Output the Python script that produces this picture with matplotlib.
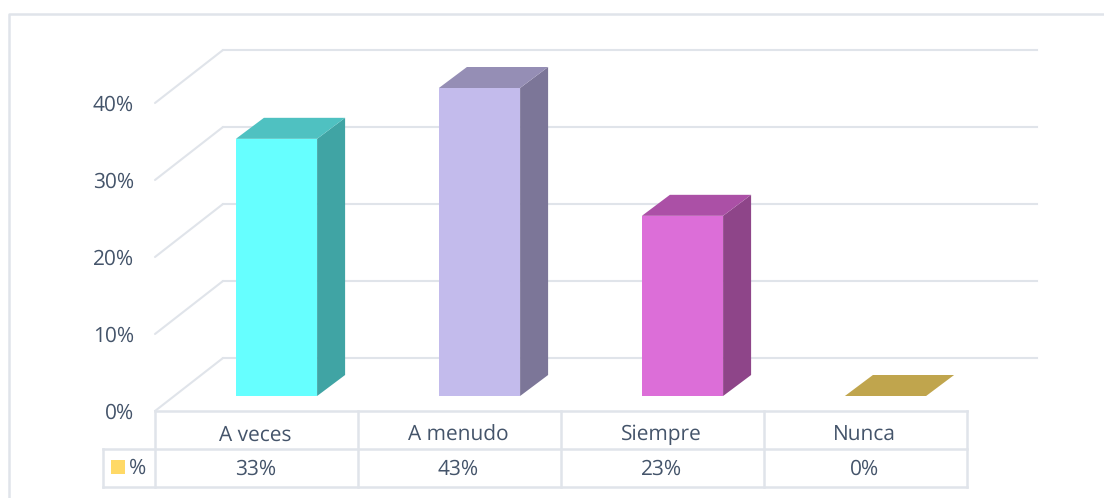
#! /usr/bin/env python
# -*- coding:utf-8 -*-

from matplotlib import pyplot as plt

plt.rcParams.update({
    "font.family": ['Open Sans', 'DejaVu Sans'],
    "text.hinting": 'none',
})

# Datos
categorias = ['A veces', 'A menudo', 'Siempre', 'Nunca']
valores = [33.4, 43, 23.4, 0]
etiquetas = ['33%', '43%', '23%', '0%']
ticks_y = [0, 10, 20, 30, 40]
max_eje = 40

color_frente = ['#66FFFF', '#C3BBEC', '#DC6ED8', '#FFD966']
color_lado = ['#40A4A4', '#7C7698', '#8E4589', '#A38A3F']
color_tapa = ['#4FC1C1', '#958EB5', '#AB50A6', '#C0A54D']

COLOR_GRID = '#E0E4EA'
COLOR_TEXTO = '#44546A'
TAM = 15

# Un eje sobre toda la figura: x en categorias, y en porcentaje
ANCHO, ALTO = 1104, 498
PX_X = 203     # pixeles por categoria
PX_Y = 7.7     # pixeles por 1%
X0, Y0 = 155, 411

fig01 = plt.figure(figsize=(ANCHO / 100, ALTO / 100), dpi=100)
ax01 = fig01.add_axes([0, 0, 1, 1])
ax01.set_xlim(-X0 / PX_X, (ANCHO - X0) / PX_X)
ax01.set_ylim(-(ALTO - Y0) / PX_Y, Y0 / PX_Y)
ax01.axis('off')

# Profundidad del suelo y de las barras
prof_x, prof_y = 68 / PX_X, 53 / PX_Y
barra_x, barra_y = 28 / PX_X, 21 / PX_Y
inicio_x, inicio_y = 20 / PX_X, 15 / PX_Y
ancho_barra = 0.4
margen = (1 - ancho_barra) / 2
n = len(categorias)
fin_grid = (1037 - X0) / PX_X

# Rejilla
for t in ticks_y:
    ax01.plot([0, prof_x], [t, t + prof_y], color=COLOR_GRID, lw=1.5, solid_capstyle='round', zorder=1)
    ax01.plot([prof_x, fin_grid], [t + prof_y, t + prof_y], color=COLOR_GRID, lw=1.5, zorder=1)
    ax01.text(-21 / PX_X, t - 2 / PX_Y, f'{t}%', ha='right', va='center', fontsize=TAM, color=COLOR_TEXTO)

# Barras (Excel recorta en el maximo del eje)
for i, v in enumerate(valores):
    h = min(v, max_eje)
    x1 = i + margen + inicio_x
    x2 = x1 + ancho_barra
    y1 = inicio_y
    y2 = y1 + h
    if h > 0:
        ax01.fill([x1, x2, x2, x1], [y1, y1, y2, y2], color=color_frente[i], lw=0, zorder=3)
        ax01.fill([x2, x2 + barra_x, x2 + barra_x, x2],
                  [y1, y1 + barra_y, y2 + barra_y, y2], color=color_lado[i], lw=0, zorder=3)
    ax01.fill([x1, x2, x2 + barra_x, x1 + barra_x],
              [y2, y2, y2 + barra_y, y2 + barra_y], color=color_tapa[i], lw=0, zorder=3)

# Tabla de datos
fila = 38 / PX_Y
col_leyenda = 52 / PX_X
ax01.plot([0, n], [0, 0], color=COLOR_GRID, lw=1.8, zorder=2)
ax01.plot([-col_leyenda, n], [-fila, -fila], color=COLOR_GRID, lw=1.8, zorder=2)
ax01.plot([-col_leyenda, n], [-2 * fila, -2 * fila], color=COLOR_GRID, lw=1.8, zorder=2)
ax01.plot([-col_leyenda, -col_leyenda], [-fila, -2 * fila], color=COLOR_GRID, lw=1.8, zorder=2)
for i in range(n + 1):
    ax01.plot([i, i], [0, -2 * fila], color=COLOR_GRID, lw=1.8, zorder=2)
for i in range(n):
    ax01.text(i + 0.5 - 1 / PX_X, -0.5 * fila - 5 / PX_Y, categorias[i], ha='center', va='center',
              fontsize=TAM, color=COLOR_TEXTO)
    ax01.text(i + 0.5 - 1 / PX_X, -1.5 * fila - 1 / PX_Y, etiquetas[i], ha='center', va='center',
              fontsize=TAM, color=COLOR_TEXTO)

# Leyenda dentro de la tabla
ax01.fill([-44 / PX_X, -30 / PX_X, -30 / PX_X, -44 / PX_X],
          [-49 / PX_Y, -49 / PX_Y, -63 / PX_Y, -63 / PX_Y], color=color_frente[3], lw=0, zorder=3)
ax01.text(-17 / PX_X, -1.5 * fila, '%', ha='center', va='center', fontsize=TAM, color=COLOR_TEXTO)

# Marco exterior
xm, ym = (9 - X0) / PX_X, (Y0 - 14) / PX_Y
ax01.plot([xm, xm, ax01.get_xlim()[1]], [ax01.get_ylim()[0], ym, ym], color=COLOR_GRID, lw=1.8, zorder=1)

fig01.savefig('out.png', dpi=100)
